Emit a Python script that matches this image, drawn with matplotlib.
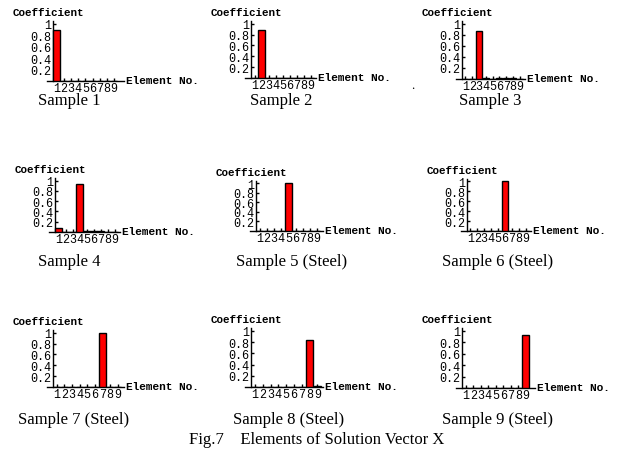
import numpy as np
import matplotlib
matplotlib.use("Agg")
import matplotlib.pyplot as plt

# donnees
elements = np.arange(1, 10)
sample_1 = [0.89, 0, 0, 0, 0, 0, 0, 0, 0]
sample_2 = [0, 0.88, 0, 0, 0, 0, 0, 0, 0]
sample_3 = [0, 0, 0.87, 0.015, 0, 0.012, 0.012, 0.012, 0]
sample_4 = [0.07, 0, 0, 0.93, 0.015, 0.015, 0.012, 0, 0]
sample_5 = [0, 0, 0, 0, 1.0, 0, 0, 0, 0]
sample_6 = [0, 0, 0, 0, 0, 1.0, 0, 0, 0]
sample_7 = [0, 0, 0, 0, 0, 0, 1.0, 0, 0]
sample_8 = [0, 0, 0, 0, 0, 0, 0, 0.84, 0.02]
sample_9 = [0, 0, 0, 0, 0, 0, 0, 0, 0.92]
samples = [sample_1, sample_2, sample_3, sample_4, sample_5,
           sample_6, sample_7, sample_8, sample_9]
captions = ["Sample 1", "Sample 2", "Sample 3",
            "Sample 4", "Sample 5 (Steel)", "Sample 6 (Steel)",
            "Sample 7 (Steel)", "Sample 8 (Steel)", "Sample 9 (Steel)"]
yticks = [0.2, 0.4, 0.6, 0.8, 1.0]
ytick_labels = ["0.2", "0.4", "0.6", "0.8", "1"]

# geometrie des panneaux en pixels : axe y, axe x, haut, largeur element, fin axe x
x0s = [53, 251, 462, 55, 256, 467, 53, 251, 462]
y0s = [82, 79, 80, 233, 232, 232, 388, 388, 389]
ytops = [22, 22, 22, 179, 182, 180, 331, 329, 329]
ws = [7.2, 7.0, 6.8, 7.0, 7.2, 6.9, 7.6, 7.8, 7.5]
xends = [124, 316, 525, 120, 323, 531, 124, 323, 535]
cap_x = [69, 281, 490, 69, 292, 498, 74, 289, 498]
cap_y = [101, 101, 101, 262, 262, 262, 420, 420, 420]

W, H = 634, 460
fig = plt.figure(figsize=(W / 100, H / 100), dpi=100)
mono = "Liberation Mono"
serif = "Liberation Serif"

for k in range(9):
    x0, y0, yt, w, xe = x0s[k], y0s[k], ytops[k], ws[k], xends[k]
    left_px = x0 - 6
    ax = fig.add_axes([left_px / W, 1 - y0 / H, (xe - left_px) / W, (y0 - yt) / H])
    ax.set_xlim(0.5 - 6 / w, 0.5 + (xe - x0) / w)
    ax.set_ylim(0, 1.05)
    ax.bar(elements, samples[k], width=0.9, color="#ff0000",
           edgecolor="black", linewidth=1.0, zorder=3)
    for s in ["top", "right"]:
        ax.spines[s].set_visible(False)
    ax.spines["left"].set_position(("data", 0.5))
    ax.spines["left"].set_linewidth(1.0)
    ax.spines["bottom"].set_linewidth(1.0)
    ax.patch.set_alpha(0)
    ax.set_xticks(elements)
    ax.set_xticklabels([str(e) for e in elements], fontfamily=mono, fontsize=8.5)
    ax.set_yticks(yticks)
    ax.set_yticklabels(ytick_labels, fontfamily=mono, fontsize=8.5)
    ax.tick_params(axis="x", direction="in", length=2, width=1, pad=1)
    ax.tick_params(axis="y", direction="in", length=2, width=1, pad=1)
    fig.text((x0 - 40) / W, 1 - (yt - 9) / H, "Coefficient", fontfamily=mono,
             fontsize=7.8, fontweight="bold", va="center", ha="left")
    fig.text((xe + 2) / W, 1 - (y0 - 1) / H, "Element No.", fontfamily=mono,
             fontsize=8, fontweight="bold", va="center", ha="left")
    fig.text(cap_x[k] / W, 1 - cap_y[k] / H, captions[k], fontfamily=serif,
             fontsize=12, va="center", ha="center")

fig.text(413 / W, 1 - 86 / H, ".", fontfamily=serif, fontsize=9, ha="center", va="center")
fig.text(317 / W, 1 - 440 / H, "Fig.7    Elements of Solution Vector X",
         fontfamily=serif, fontsize=12, va="center", ha="center")

fig.savefig("out.png", dpi=100)
